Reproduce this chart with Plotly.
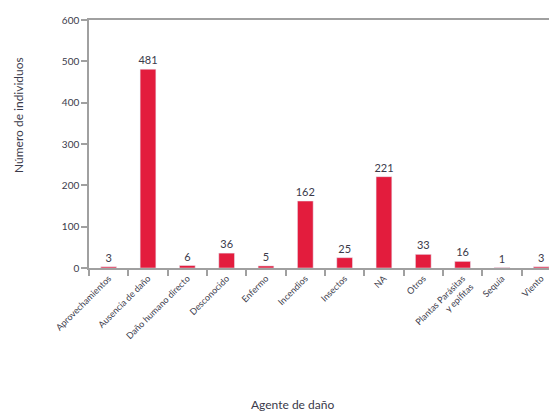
import plotly.graph_objects as go

categorias = ["Aprovechamientos", "Ausencia de daño", "Daño humano directo", "Desconocido",
              "Enfermo", "Incendios", "Insectos", "NA", "Otros",
              "Plantas Parásitas<br>y epífitas", "Sequía", "Viento"]
valores = [3, 481, 6, 36, 5, 162, 25, 221, 33, 16, 1, 3]
y_ticks = [0, 100, 200, 300, 400, 500, 600]

color_barra = "#E31C3D"
gris = "#A0A0A0"
texto = "#3A3A4A"
fuente = "Lato, Open Sans, sans-serif"

fig = go.Figure(go.Bar(
    x=categorias, y=valores, marker_color=color_barra, width=0.4,
    text=valores, textposition="outside", cliponaxis=False, constraintext="none",
    textfont=dict(size=11, color=texto, family=fuente),
))

fig.update_layout(
    width=549, height=406,
    margin=dict(l=81, r=0, t=12, b=146, autoexpand=False),
    plot_bgcolor="white", paper_bgcolor="white",
    showlegend=False,
    font=dict(family=fuente, color=texto),
)
fig.update_xaxes(
    range=[-0.5, 11.4], showline=True, linecolor=gris, linewidth=1.5, mirror=True,
    ticks="outside", tickson="boundaries", ticklen=6, tickcolor=gris, tickwidth=1.5,
    tickangle=-45, tickfont=dict(size=9, color=texto, family=fuente), automargin=False,
)
fig.update_yaxes(
    range=[0, 600], tickvals=y_ticks, showgrid=False, zeroline=False,
    showline=True, linecolor=gris, linewidth=1.5,
    ticks="outside", ticklen=6, tickcolor=gris, tickwidth=1.5,
    tickfont=dict(size=10, color=texto, family=fuente), automargin=False,
)
fig.add_annotation(text="Número de individuos", xref="paper", yref="paper",
                   x=(18 - 89) / 468, y=(268 - 115) / 248, textangle=-90, showarrow=False,
                   xanchor="center", yanchor="middle",
                   font=dict(size=12, color=texto, family=fuente))
fig.add_annotation(text="Agente de daño", xref="paper", yref="paper",
                   x=(292 - 89) / 468, y=-(405 - 268) / 248, showarrow=False,
                   xanchor="center", yanchor="middle",
                   font=dict(size=12, color=texto, family=fuente))

fig.write_html("out.html")
